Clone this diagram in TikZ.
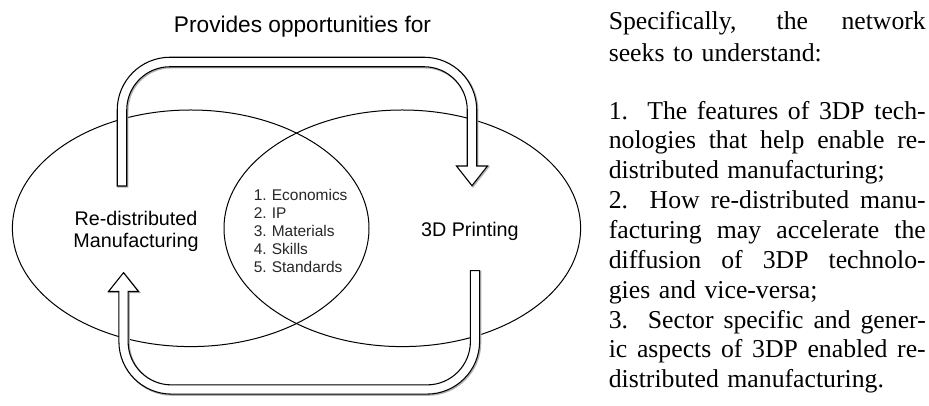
\documentclass[tikz,border=0pt]{standalone}
\usepackage{fontspec}
\setmainfont{Liberation Serif}
\newfontfamily\arialf{Liberation Sans}
\usetikzlibrary{shapes.geometric}
\newcommand\jline[1]{{\spaceskip=0.25em plus 3em minus 0.05em\makebox[237.75pt][s]{#1}}}
\begin{document}
\begin{tikzpicture}[x=0.75pt,y=0.75pt,line width=0.75pt,
  venn/.style={draw=black,ellipse,inner sep=0pt,minimum width=267.45pt,minimum height=177.45pt},
  hollow/.style={draw=black,fill=white,line width=0.8pt,line join=miter},
  shadowline/.style={draw=black!30,line width=1.2pt},
  upperpath/.style={insert path={(117.25,220) -- (117.25,296) arc[start angle=180,end angle=90,radius=52.75]
     -- (424,348.75) arc[start angle=90,end angle=0,radius=52.75]
     -- (476.75,240) -- (487.5,240) -- (472,220.3) -- (456.5,240) -- (467.25,240)
     -- (467.25,296) arc[start angle=0,end angle=90,radius=43.25]
     -- (170,339.25) arc[start angle=90,end angle=180,radius=43.25]
     -- (126.75,220) -- cycle}},
  lowerpath/.style={insert path={(470.4,135.3) -- (470.4,64.5) arc[start angle=0,end angle=-90,radius=43.4]
     -- (171.5,21.1) arc[start angle=270,end angle=180,radius=43.4]
     -- (128.1,114.5) -- (138.5,114.5) -- (123.5,133.3) -- (108.5,114.5) -- (118.9,114.5)
     -- (118.9,64.5) arc[start angle=180,end angle=270,radius=52.6]
     -- (427,11.9) arc[start angle=270,end angle=360,radius=52.6]
     -- (479.6,135.3) -- cycle}},
  sanslab/.style={inner sep=0pt,font=\arialf\fontsize{14.8}{16}\selectfont},
  listlab/.style={inner sep=0pt,text width=80pt,align=left,text=black!85,font=\arialf\frenchspacing\fontsize{11.6}{13.5}\selectfont},
  bodytext/.style={inner sep=0pt,text width=237.75pt,align=left,font=\fontsize{19.3}{22.4}\selectfont}]
\useasboundingbox (0,0) rectangle (929,406);
\node[venn] (rdm) at (190.7,177.7) {};
\node[venn] (tdp) at (402.3,177.7) {};
% hollow arrows
\path[shadowline,xshift=0.7pt,yshift=-0.7pt,upperpath];
\path[hollow,upperpath];
\path[shadowline,xshift=0.7pt,yshift=-0.7pt,lowerpath];
\path[hollow,lowerpath];
% labels
\node[anchor=base,inner sep=0pt,font=\arialf\fontsize{17}{20}\selectfont] (prov) at (302.5,373.7) {Provides opportunities for};
\node[sanslab,align=center] (rdmlab) at (136,174.5) {Re-distributed\\Manufacturing};
\node[sanslab,anchor=base] (tdplab) at (469.9,169.3) {3D Printing};
\node[listlab,anchor=base west] (issues) at (253.3,205.3) {\baselineskip=13.5pt
1. Economics\\2. IP\\3. Materials\\4. Skills\\5. Standards};
\node[bodytext,anchor=base west] (aims) at (608.3,376) {\baselineskip=22.4pt
\jline{Specifically, the network}\\[1.4pt]
seeks to understand:\\[20.6pt]
\jline{1.\ \ The features of 3DP tech-}\\
\jline{nologies that help enable re-}\\
distributed manufacturing;\\
\jline{2.\ \ How re-distributed manu-}\\
\jline{facturing may accelerate the}\\
\jline{diffusion of 3DP technolo-}\\
gies and vice-versa;\\
\jline{3.\ \ Sector specific and gener-}\\
\jline{ic aspects of 3DP enabled re-}\\
distributed manufacturing.};
\end{tikzpicture}
\end{document}
